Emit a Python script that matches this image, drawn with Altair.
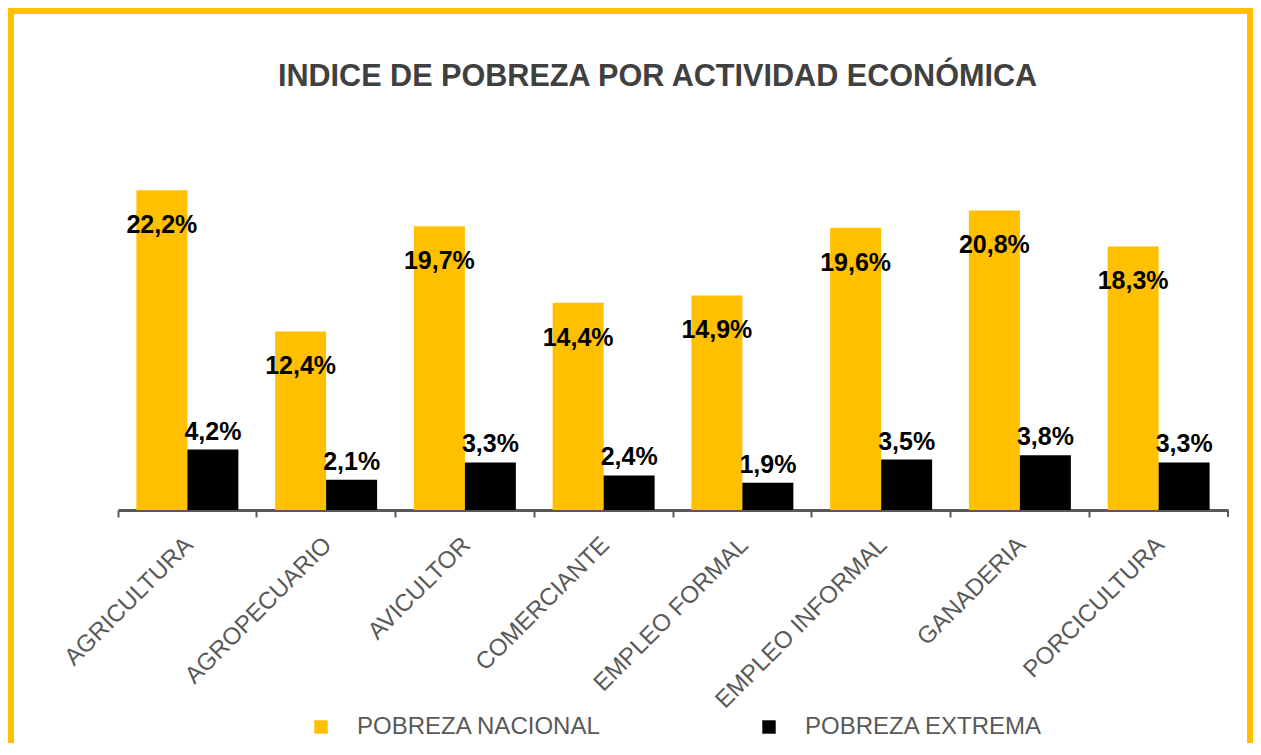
import altair as alt
import pandas as pd

titulo = "INDICE DE POBREZA POR ACTIVIDAD ECONÓMICA"
categorias = ["AGRICULTURA", "AGROPECUARIO", "AVICULTOR", "COMERCIANTE",
              "EMPLEO FORMAL", "EMPLEO INFORMAL", "GANADERIA", "PORCICULTURA"]
pobreza_nacional = [22.2, 12.4, 19.7, 14.4, 14.9, 19.6, 20.8, 18.3]
pobreza_extrema = [4.2, 2.1, 3.3, 2.4, 1.9, 3.5, 3.8, 3.3]
series = ["POBREZA NACIONAL", "POBREZA EXTREMA"]
colores = ["#FFC000", "#000000"]

rows = []
for c, n, e in zip(categorias, pobreza_nacional, pobreza_extrema):
    rows.append({"cat": c, "serie": series[0], "valor": n,
                 "etiqueta": f"{n:.1f}".replace(".", ",") + "%"})
    rows.append({"cat": c, "serie": series[1], "valor": e,
                 "etiqueta": f"{e:.1f}".replace(".", ",") + "%"})
df = pd.DataFrame(rows)

W, H = 1110, 360
PAD_L, PAD_T, PAD_R, PAD_B = 110, 142, 25, 233

xenc = alt.X("cat:N", sort=categorias, title=None,
             scale=alt.Scale(paddingInner=0.265, paddingOuter=0.1325),
             axis=alt.Axis(labelAngle=-45, labelAlign="right", labelBaseline="middle",
                           labelFont="Liberation Sans", labelFontSize=24,
                           labelColor="#595959", labelPadding=24, labelOffset=2,
                           bandPosition=-0.18, tickSize=7, tickWidth=2,
                           tickColor="#595959", domainColor="#595959",
                           domainWidth=3, grid=False, labelLimit=400))
xoff = alt.XOffset("serie:N", sort=series, scale=alt.Scale(domain=series, paddingInner=0))
yenc = alt.Y("valor:Q", scale=alt.Scale(domain=[0, 25]), axis=None)

bars = alt.Chart(df).mark_bar().encode(
    x=xenc, xOffset=xoff, y=yenc,
    color=alt.Color("serie:N", sort=series,
                    scale=alt.Scale(domain=series, range=colores),
                    legend=alt.Legend(title=None, orient="none", legendX=191, legendY=565,
                                      direction="horizontal", symbolType="square",
                                      symbolSize=180, symbolStrokeWidth=0,
                                      labelFont="Liberation Sans", labelFontSize=24,
                                      labelColor="#595959", labelOffset=24,
                                      columnPadding=155, padding=0, labelLimit=400)),
)

txt_nac = alt.Chart(df).transform_filter(alt.datum.serie == series[0]).mark_text(
    font="Liberation Sans", fontWeight="bold", fontSize=25, color="#000000",
    baseline="middle", dy=35).encode(x=xenc, xOffset=xoff, y=yenc, text="etiqueta:N")

txt_ext = alt.Chart(df).transform_filter(alt.datum.serie == series[1]).mark_text(
    font="Liberation Sans", fontWeight="bold", fontSize=25, color="#000000",
    baseline="middle", dy=-18).encode(x=xenc, xOffset=xoff, y=yenc, text="etiqueta:N")

end_tick = alt.Chart(alt.Data(values=[{}])).mark_rule(color="#595959", strokeWidth=2).encode(
    x=alt.value(W), y=alt.value(H), y2=alt.value(H + 7))

border = alt.Chart(alt.Data(values=[{}])).mark_rect(
    filled=False, stroke="#FFC000", strokeWidth=6).encode(
    x=alt.value(-PAD_L + 3), x2=alt.value(W + PAD_R - 3),
    y=alt.value(-PAD_T + 3), y2=alt.value(H + PAD_B + 20))

title_mark = alt.Chart(alt.Data(values=[{"t": titulo}])).mark_text(
    font="Liberation Sans", fontSize=30.6, fontWeight="bold", color="#404040",
    align="center", baseline="alphabetic").encode(
    x=alt.value(539.5), y=alt.value(-64), text="t:N")

chart = alt.layer(border, bars, txt_nac, txt_ext, end_tick, title_mark).properties(
    width=W, height=H,
    background="white",
    autosize=alt.AutoSizeParams(type="none"),
    padding={"left": PAD_L, "top": PAD_T, "right": PAD_R, "bottom": PAD_B},
).configure_view(stroke=None)

chart.save("out.html", embed_options={"renderer": "svg", "actions": False})
